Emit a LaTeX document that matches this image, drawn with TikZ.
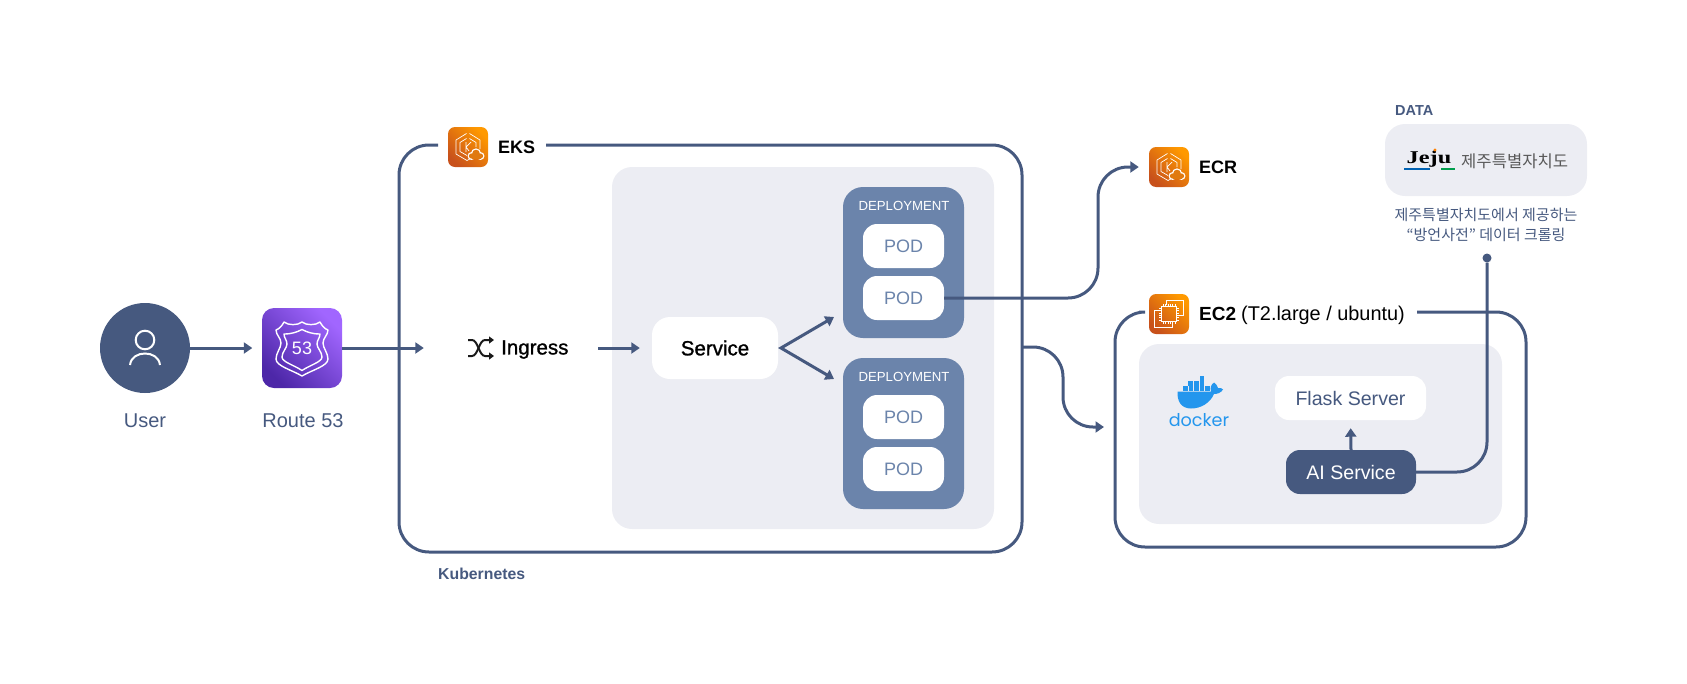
\documentclass[tikz,border=0pt]{standalone}
\usepackage{fontspec}
\setmainfont{Liberation Sans}
\newfontfamily\krfont{Noto Sans CJK KR}
\newfontfamily\medfont[FakeBold=1.2]{Liberation Sans}
\newfontfamily\brushfont[FakeStretch=1.35]{Liberation Serif}
\newfontfamily\dockerfont{Poppins}
\usetikzlibrary{arrows.meta}
\definecolor{navy}{HTML}{46597F}
\definecolor{steel}{HTML}{6B84AB}
\definecolor{panel}{HTML}{ECEDF3}
\definecolor{dockerblue}{HTML}{2496ED}
\definecolor{awstop}{HTML}{FF9900}
\definecolor{awsbot}{HTML}{C8511B}
\definecolor{awsmid}{HTML}{E07A10}
\definecolor{r53top}{HTML}{A166FF}
\definecolor{r53bot}{HTML}{4D27A8}
\newcommand{\fs}[1]{\fontsize{#1}{#1}\selectfont}
\tikzset{
  flow/.style={draw=navy,line width=3pt,-{Triangle[length=8.5pt,width=11pt]}},
  frame/.style={draw=navy,line width=3pt,rounded corners=30pt},
  panelbox/.style={fill=panel,rounded corners=20pt,inner sep=0pt},
  whitebox/.style={fill=white,rounded corners=14pt,inner sep=0pt},
  deploybox/.style={fill=steel,rounded corners=20pt,minimum width=121pt,minimum height=151pt,inner sep=0pt},
  podbox/.style={whitebox,minimum width=81pt,minimum height=44pt,text=steel,font=\fs{18}},
  deploytext/.style={text=white,inner sep=0pt,font=\fs{13.2}},
  label/.style={text=navy,inner sep=0pt,font=\fs{20}},
  strong/.style={text=black,inner sep=0pt,font=\bfseries\fs{18}},
  awsorange/.style={rounded corners=7pt,minimum size=40pt,inner sep=0pt,top color=awstop,bottom color=awsbot,shading angle=-45},
  awspurple/.style={rounded corners=12pt,minimum size=80pt,inner sep=0pt,top color=r53top,bottom color=r53bot,shading angle=-45},
  pics/hexmark/.style={code={
    \draw[white,line width=.7pt,line join=round] (-1.5,-13.5) -- (-12,-7) -- (-12,7) -- (-1,13.5) -- (11,7);
    \draw[white,line width=.7pt,line join=round] (1.5,-13.5) -- (12,-7) -- (12,2);
    \draw[white,line width=.7pt,line join=round] (-1.5,-8.5) -- (-8,-4.5) -- (-8,4.5) -- (-1,8.5);
    \draw[white,line width=.7pt,line join=round] (1.5,-8.5) -- (8,-4.5) -- (8,0);
    \draw[white,line width=.7pt] (-2,-5) -- (-2,5) (3,-5) -- (-2,0) -- (1,4);
    \foreach \cx/\cy/\cr in {3.5/9/3.2,8/6.5/4.4,12.5/9/3.2}{\draw[white,line width=1.4pt,fill=white] (\cx,\cy) circle[radius=\cr pt];}
    \fill[white] (3.5,8) rectangle (12.5,12.2);
    \foreach \cx/\cy/\cr in {3.5/9/2.6,8/6.5/3.8,12.5/9/2.6}{\fill[awsmid] (\cx,\cy) circle[radius=\cr pt];}
    \fill[awsmid] (3.5,8) rectangle (12.5,11.6);
  }},
  pics/chipmark/.style={code={
    \draw[white,line width=.8pt] (-3,-9) -- (-3,-14) -- (14,-14) -- (14,1) -- (9,1);
    \draw[white,line width=.8pt] (-9,-4) -- (-15,-4) -- (-15,13) -- (3,13) -- (3,8);
    \draw[white,line width=.9pt] (-7.5,-7.5) rectangle (7.5,7.5);
    \foreach \p in {-6,-3.6,-1.2,1.2,3.6,6}{
      \draw[white,line width=.6pt] (\p,-10) -- (\p,-8) (\p,8) -- (\p,10) (-10,\p) -- (-8,\p) (8,\p) -- (10,\p);
    }
  }},
  pics/shieldmark/.style={code={
    \draw[white,line width=1.4pt,line join=round] (-26,-18) .. controls (-23,-19) and (-20,-22) .. (-18,-26) .. controls (-14,-22.5) and (-4,-22.5) .. (0,-26) .. controls (4,-22.5) and (14,-22.5) .. (18,-26) .. controls (20,-22) and (23,-19) .. (26,-18) .. controls (26,-13) and (21,-10) .. (21,-5) .. controls (21,0) and (26,5) .. (26,11) .. controls (26,18) and (10,22) .. (0,28) .. controls (-10,22) and (-26,18) .. (-26,11) .. controls (-26,5) and (-21,0) .. (-21,-5) .. controls (-21,-10) and (-26,-13) .. (-26,-18) -- cycle;
    \draw[white,line width=1.4pt,line join=round] (-18,-14) .. controls (-10,-14) and (-5,-16) .. (0,-18.5) .. controls (5,-16) and (10,-14) .. (18,-14) .. controls (18,-10) and (15,-8) .. (15,-4) .. controls (15,0) and (20,4) .. (20,9) .. controls (20,14) and (8,17) .. (0,22.5) .. controls (-8,17) and (-20,14) .. (-20,9) .. controls (-20,4) and (-15,0) .. (-15,-4) .. controls (-15,-8) and (-18,-10) .. (-18,-14) -- cycle;
  }},
  pics/usermark/.style={code={
    \draw[white,line width=2pt] (0,-8) circle[radius=9.3pt];
    \draw[white,line width=2pt] (-15,17) .. controls (-14,9) and (-7,5.5) .. (0,5.5) .. controls (7,5.5) and (14,9) .. (15,17);
  }},
  pics/shufflemark/.style={code={
    \draw[black!90,line width=2pt,-{Triangle[length=5pt,width=7pt]}] (-13,-8) -- (-9,-8) .. controls (-3,-8) and (-2,8) .. (4,8) -- (13,8);
    \draw[black!90,line width=2pt,-{Triangle[length=5pt,width=7pt]}] (-13,8) -- (-9,8) .. controls (-3,8) and (-2,-8) .. (4,-8) -- (13,-8);
  }},
  pics/whalemark/.style={code={
    \foreach \bx/\by in {18.6/0,7/5,12.8/5,18.6/5,2/10,7.6/10,13/10,18.6/10,24/10}{
      \fill[dockerblue] (\bx,\by) rectangle ++(4.8,4.6);
    }
    \fill[dockerblue] (-3.5,15.5) -- (30,15.5) .. controls (29,11) and (30,9) .. (33,6.5) .. controls (35,8) and (36.5,10) .. (37,12) .. controls (39,11.5) and (41,12) .. (42,13.5) .. controls (40,17) and (36,18) .. (33,18) .. controls (29,27) and (20,32.5) .. (10,32.5) .. controls (0,32.5) and (-4,25) .. (-3.5,15.5) -- cycle;
  }}
}
\begin{document}
\begin{tikzpicture}[x=1pt,y=-1pt]
\useasboundingbox (0,0) rectangle (1687,683);
% left side
\node[circle,fill=navy,minimum size=90pt,inner sep=0pt] (user) at (145,348) {};
\pic at (user) {usermark};
\node[label] (userlabel) at (145,421) {User};
\node[awspurple] (route) at (302,348) {};
\pic at (route) {shieldmark};
\node[text=white,inner sep=0pt,font=\fs{18}] (routenum) at (302,348) {53};
\node[label] (routelabel) at (303,421) {Route 53};
% eks
\coordinate (eksgapa) at (438,145);
\coordinate (eksgapb) at (546,145);
\coordinate (eksout) at (1022,347);
\draw[frame] (eksgapa) -- (399,145) -- (399,552) -- (1022,552) -- (1022,145) -- (eksgapb);
\node[awsorange] (eks) at (468,147) {};
\pic at (eks) {hexmark};
\node[strong,anchor=west] (ekslabel) at (498,147) {EKS};
\node[text=navy,inner sep=0pt,anchor=west,font=\bfseries\fs{15.8}] (kube) at (438,574) {Kubernetes};
\node[panelbox,minimum width=382pt,minimum height=362pt] (ekspanel) at (803,348) {};
\node[inner sep=0pt,minimum width=101pt,minimum height=24pt] (ingress) at (518.5,348) {};
\pic at (481,348) {shufflemark};
\node[anchor=west,inner sep=0pt,text=black,font=\medfont\fs{20.5}] (ingresslabel) at (501,349.5) {Ingress};
\node[whitebox,rounded corners=18pt,minimum width=126pt,minimum height=62pt,text=black,font=\medfont\fs{20.5}] (service) at (715,348) {Service};
\node[deploybox] (dep1) at (903.5,262.5) {};
\node[deploybox] (dep2) at (903.5,433.5) {};
\node[deploytext] (dep1label) at (904,206) {DEPLOYMENT};
\node[deploytext] (dep2label) at (904,377) {DEPLOYMENT};
\node[podbox] (pod1) at (903.5,246) {POD};
\node[podbox] (pod2) at (903.5,298) {POD};
\node[podbox] (pod3) at (903.5,417) {POD};
\node[podbox] (pod4) at (903.5,469) {POD};
% ecr
\node[awsorange] (ecr) at (1169,167) {};
\pic at (ecr) {hexmark};
\node[strong,anchor=west] (ecrlabel) at (1199,167) {ECR};
% ec2
\coordinate (ec2gapa) at (1139,312);
\coordinate (ec2gapb) at (1417,312);
\coordinate (ec2in) at (1104,427);
\draw[frame] (ec2gapa) -- (1115,312) -- (1115,547) -- (1526,547) -- (1526,312) -- (ec2gapb);
\node[awsorange] (ec2) at (1169,314) {};
\pic at (ec2) {chipmark};
\node[anchor=west,inner sep=0pt,text=black] (ec2label) at (1199,315) {\bfseries\fs{19}EC2\kern 5pt\normalfont\fs{19.9}(T2.large / ubuntu)};
\node[panelbox,minimum width=363pt,minimum height=180pt] (ec2panel) at (1320.5,434) {};
\pic at (1181,376) {whalemark};
\node[text=dockerblue,inner sep=0pt,font=\dockerfont\fs{17.6}] (docker) at (1199,420) {docker};
\node[whitebox,minimum width=151pt,minimum height=44pt,text=navy,font=\fs{19.6}] (flask) at (1350.5,398) {Flask Server};
\node[whitebox,fill=navy,minimum width=130pt,minimum height=44pt,text=white,font=\fs{19.6}] (ai) at (1351,472) {AI Service};
% data
\node[anchor=west,inner sep=0pt,text=navy,font=\bfseries\fs{14.5}] (datalabel) at (1395,110.5) {DATA};
\node[panelbox,minimum width=202pt,minimum height=72pt] (databox) at (1486,160) {};
\node[inner sep=0pt,font=\brushfont\bfseries\fs{18},text=black] (jeju) at (1429,159) {Jeju};
\fill[blue!45!cyan!70!black] (1404,167.5) rectangle (1430,170);
\fill[green!45!black!70!cyan] (1441,167.5) rectangle (1455,170);
\fill[orange] (1435,150) circle[radius=1.6pt];
\node[anchor=west,inner sep=0pt,text=black!65,font=\krfont\fs{16.6}] (jejuname) at (1461,161) {제주특별자치도};
\node[inner sep=0pt,text=navy,align=center,font=\krfont\fs{15}] (datatext) at (1486,225) {제주특별자치도에서 제공하는\\[5pt]“방언사전” 데이터 크롤링};
\node[circle,fill=navy,minimum size=9pt,inner sep=0pt] (datadot) at (1487,258) {};
% connectors
\draw[flow,shorten >=9.5pt] (user) -- (route);
\draw[flow,shorten >=44pt] (route) -- (ingress);
\draw[flow,shorten <=29pt,shorten >=12pt] (ingress) -- (service);
\coordinate (split) at (781,348);
\coordinate (tipa) at (834,317);
\coordinate (tipb) at (834,379);
\draw[flow,{Triangle[length=8.5pt,width=11pt]}-{Triangle[length=8.5pt,width=11pt]}] (tipa) -- (split) -- (tipb);
\coordinate (ecrbend) at (1098,298);
\draw[flow,rounded corners=30pt,shorten >=10pt] (pod2.east) -- (ecrbend) |- (ecr.west);
\coordinate (ec2bend) at (1063,347);
\draw[flow,rounded corners=30pt] (eksout) -- (ec2bend) |- (ec2in);
\draw[flow,shorten >=8pt] (ai.north) -- (flask.south);
\draw[draw=navy,line width=3pt,rounded corners=30pt] (ai.east) -| (datadot);
\end{tikzpicture}
\end{document}
